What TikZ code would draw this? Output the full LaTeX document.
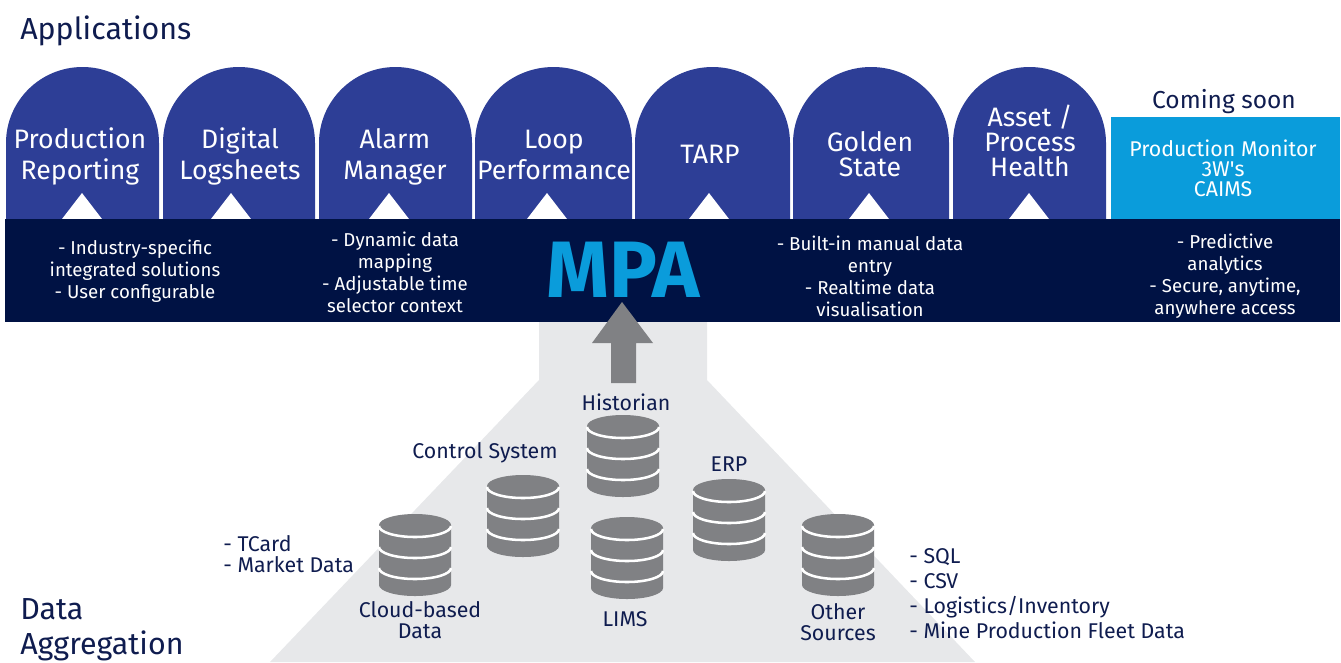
\documentclass[tikz,border=0pt]{standalone}
\usepackage{fontspec}
\setmainfont{Fira Sans}
\usepackage{tikz}
\definecolor{archblue}{HTML}{2D3E96}
\definecolor{barnavy}{HTML}{001244}
\definecolor{skyblue}{HTML}{0A9CDB}
\definecolor{funnelgrey}{HTML}{E7E8EA}
\definecolor{stackgrey}{HTML}{808184}
\definecolor{inknavy}{HTML}{0F1C4F}

\begin{document}
\begin{tikzpicture}[x=0.75pt,y=-0.75pt,
  arch node/.style={white,align=center,font=\fontsize{20}{23.25}\selectfont},
  tight node/.style={white,align=center,font=\fontsize{20}{18.75}\selectfont},
  soon node/.style={white,align=center,font=\fontsize{16}{15}\selectfont},
  bar node/.style={white,align=center,font=\fontsize{14}{16.5}\selectfont},
  store node/.style={inknavy,align=center,font=\fontsize{16}{15.5}\selectfont},
  list node/.style={inknavy,align=left,inner sep=0pt,font=\fontsize{16}{18.75}\selectfont},
  head node/.style={inknavy,align=left,inner sep=0pt,font=\fontsize{22.8}{26}\selectfont},
  dbstack/.pic={
    \fill[stackgrey] (-36,11) -- (-36,71) arc[start angle=180,end angle=0,x radius=36,y radius=11]
      -- (36,11) arc[start angle=360,end angle=180,x radius=36,y radius=11] -- cycle;
    \foreach \ly in {12,33,54}
      \draw[white,line width=1.9pt] (-36,\ly) arc[start angle=180,end angle=0,x radius=36,y radius=11];
  }]
  \useasboundingbox (0,0) rectangle (1341,662);

  \fill[funnelgrey] (539,322) -- (707,322) -- (707,380) -- (975,662) -- (270,662) -- (539,380) -- cycle;

  \foreach \lx/\rx/\ax in {6/159/82,163/315/231,319/472/389,475/632/547,635/790/709,793/949/869,953/1106/1029}{
    \pgfmathsetmacro{\rr}{(\rx-\lx)/2}
    \fill[archblue] (\lx,219) -- (\lx,143) arc[start angle=180,end angle=360,x radius=\rr,y radius=76] -- (\rx,219) -- cycle;
    \fill[white] (\ax-20,219) -- (\ax,193) -- (\ax+20,219) -- cycle;
  }
  \fill[skyblue] (1111,117) rectangle (1340,219);
  \fill[barnavy] (5,219) rectangle (1340,322);

  \fill[stackgrey] (611,383) -- (611,343) -- (592,343) -- (622,302) -- (653,343) -- (636,343) -- (636,383) -- cycle;

  \node[head node,anchor=west] (apps) at (20,31) {Applications};
  \node[head node,anchor=west] (aggr) at (20,630) {Data\\Aggregation};

  \node[arch node] (prod) at (80,156) {Production\\Reporting};
  \node[arch node] (logs) at (240,156) {Digital\\Logsheets};
  \node[arch node] (alarm) at (395,157) {Alarm\\Manager};
  \node[arch node] (loop) at (554,155) {Loop\\Performance};
  \node[arch node] (tarp) at (710,154) {TARP};
  \node[tight node] (gold) at (870,154) {Golden\\State};
  \node[tight node] (asset) at (1030,141) {Asset /\\Process\\Health};
  \node[soon node] (soon) at (1223,168) {Production Monitor\\3W\textquotesingle s\\CAIMS};
  \node[inknavy,font=\fontsize{18.4}{20}\selectfont] (coming) at (1224,102) {Coming soon};

  \node[skyblue,font=\fontsize{60}{64}\selectfont\bfseries] (mpa) at (623,270) {MPA};
  \node[bar node] (barone) at (135,271) {- Industry-specific\\integrated solutions\\- User configurable};
  \node[bar node] (bartwo) at (395,272) {- Dynamic data\\mapping\\- Adjustable time\\selector context};
  \node[bar node] (barthree) at (870,276) {- Built-in manual data\\entry\\- Realtime data\\visualisation};
  \node[bar node] (barfour) at (1225,276) {- Predictive\\analytics\\- Secure, anytime,\\anywhere access};

  \pic at (623,415) {dbstack};
  \pic at (523,475) {dbstack};
  \pic at (415,514) {dbstack};
  \pic at (627,517) {dbstack};
  \pic at (729,479) {dbstack};
  \pic at (838,514) {dbstack};

  \node[store node] (hist) at (626,402) {Historian};
  \node[store node] (ctrl) at (485,453) {Control System};
  \node[store node] (erp) at (729,464) {ERP};
  \node[store node] (cloud) at (420,620) {Cloud-based\\Data};
  \node[store node] (lims) at (625,619) {LIMS};
  \node[store node] (other) at (838,622) {Other\\Sources};

  \node[store node,align=left,anchor=west,inner sep=0pt] (tcard) at (223,554) {- TCard\\- Market Data};
  \node[list node,anchor=west] (feeds) at (909,594) {- SQL\\- CSV\\- Logistics/Inventory\\- Mine Production Fleet Data};
\end{tikzpicture}
\end{document}
